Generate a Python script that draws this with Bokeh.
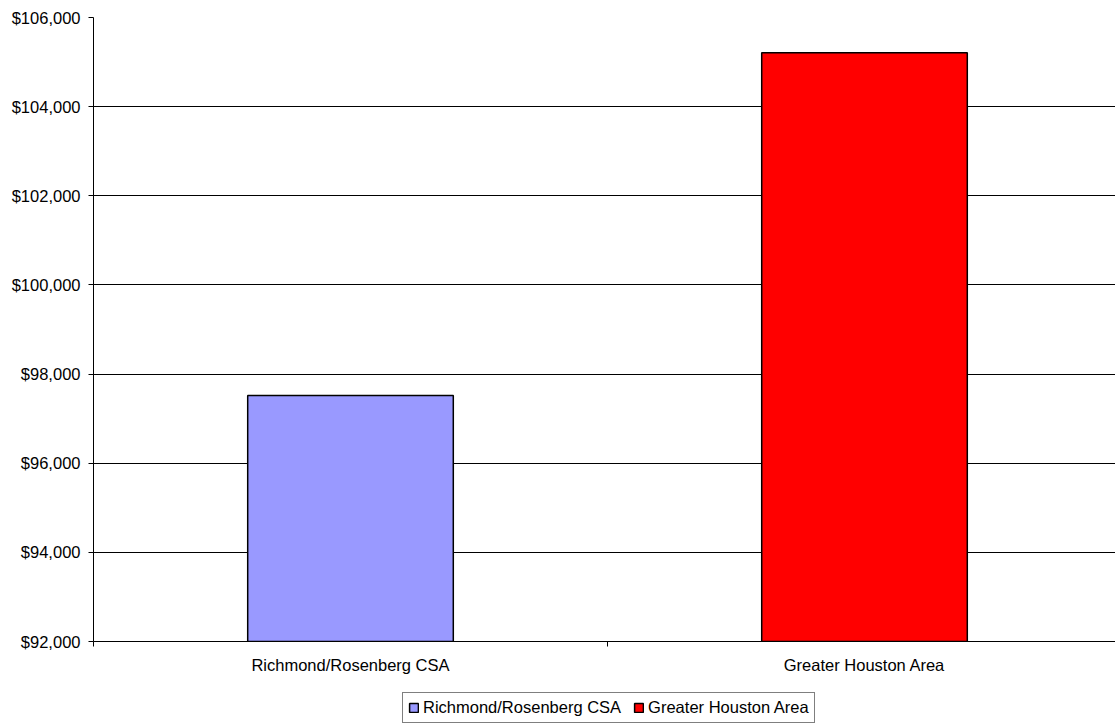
from bokeh.plotting import figure
from bokeh.layouts import column
from bokeh.models import (FixedTicker, NumeralTickFormatter, Range1d, Legend,
                          LegendItem, ColumnDataSource)
from bokeh.embed import file_html
from bokeh.resources import INLINE

# data
categories = ["Richmond/Rosenberg CSA", "Greater Houston Area"]
values = [97520, 105210]
colors = ["#9999FF", "#FF0000"]
y_ticks = [92000, 94000, 96000, 98000, 100000, 102000, 104000, 106000]

FONT = "Liberation Sans"
FSIZE = "16.5px"
W = 1121

# categories sit at the middle of unit slots: 0.5, 1.5, ...
xs = [i + 0.5 for i in range(len(categories))]
sources = [ColumnDataSource(dict(x=[xs[i]], top=[values[i]])) for i in range(len(categories))]

p = figure(width=W, height=676, output_backend="svg", toolbar_location=None,
           x_range=Range1d(0, len(categories)), y_range=Range1d(y_ticks[0], y_ticks[-1]),
           min_border_left=93, min_border_right=0, min_border_top=17, min_border_bottom=35)
p.outline_line_color = None

for src, col in zip(sources, colors):
    p.vbar(x="x", top="top", bottom=y_ticks[0], width=0.4, source=src,
           fill_color=col, line_color="black", line_width=1.5)

# y axis
p.yaxis.ticker = FixedTicker(ticks=y_ticks)
p.yaxis.formatter = NumeralTickFormatter(format="$0,0")
p.yaxis.major_label_text_font = FONT
p.yaxis.major_label_text_font_size = FSIZE
p.yaxis.major_label_text_color = "black"
p.yaxis.major_tick_out = 5
p.yaxis.major_tick_in = 0
p.yaxis.minor_tick_out = 0
p.yaxis.minor_tick_in = 0
p.yaxis.major_label_standoff = 8
p.yaxis.axis_line_color = "black"
p.yaxis.major_tick_line_color = "black"

# x axis: labels at slot centres, tick marks at slot boundaries
p.xaxis.ticker = FixedTicker(ticks=xs, minor_ticks=list(range(len(categories) + 1)))
p.xaxis.major_label_overrides = {x: c for x, c in zip(xs, categories)}
p.xaxis.major_label_text_font = FONT
p.xaxis.major_label_text_font_size = FSIZE
p.xaxis.major_label_text_color = "black"
p.xaxis.major_tick_out = 0
p.xaxis.major_tick_in = 0
p.xaxis.minor_tick_out = 5
p.xaxis.minor_tick_in = 0
p.xaxis.minor_tick_line_color = "black"
p.xaxis.major_label_standoff = 9
p.xaxis.axis_line_color = "black"

p.xgrid.grid_line_color = None
p.ygrid.grid_line_color = "black"
p.ygrid.grid_line_width = 1

# legend strip under the chart (its bars sit out of view; only the legend shows)
lg = figure(width=W, height=50, output_backend="svg", toolbar_location=None,
            x_axis_type=None, y_axis_type=None,
            x_range=Range1d(-len(categories), 0), y_range=Range1d(0, 1),
            min_border=0, min_border_left=93)
lg.outline_line_color = None
lg.grid.grid_line_color = None

items = []
for cat, src, col in zip(categories, sources, colors):
    r = lg.vbar(x="x", top="top", bottom=y_ticks[0], width=0.4, source=src,
                fill_color=col, line_color="black", line_width=1.5)
    items.append(LegendItem(label=cat, renderers=[r]))

legend = Legend(items=items, orientation="horizontal", location=(309, 3),
                label_text_font=FONT, label_text_font_size=FSIZE, label_text_color="black",
                glyph_width=11, glyph_height=11, label_standoff=4, spacing=12,
                padding=5, margin=0, label_height=16,
                border_line_color="black", border_line_width=1,
                background_fill_color="white", background_fill_alpha=1)
lg.add_layout(legend)

open("out.html", "w").write(file_html(column(p, lg), INLINE))
